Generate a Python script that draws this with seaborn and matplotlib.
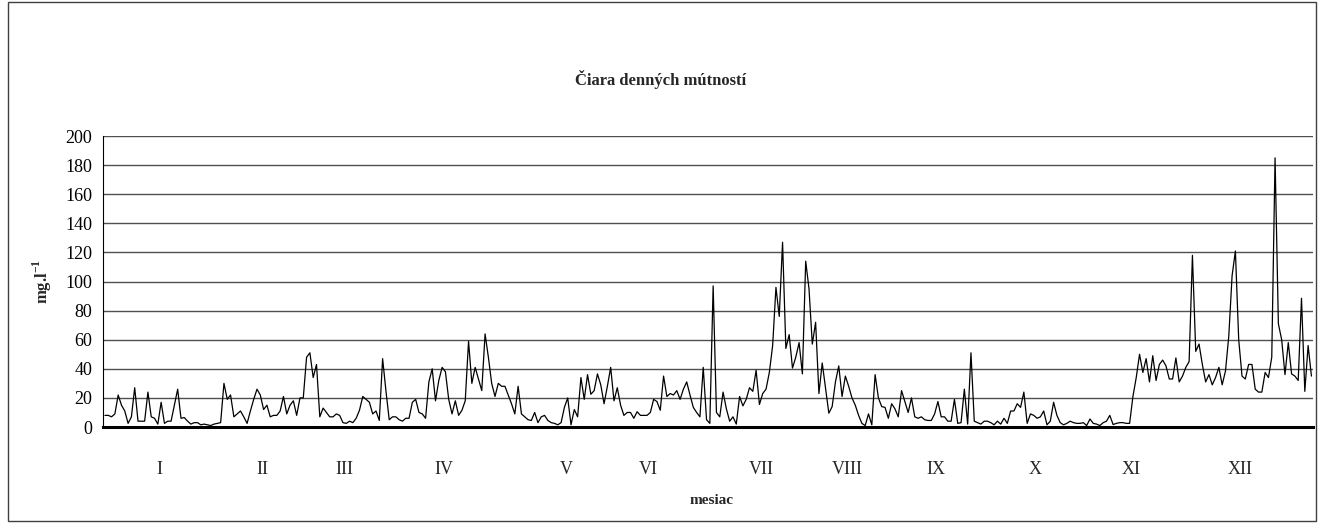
import numpy as np
import pandas as pd
import seaborn as sns
import matplotlib.pyplot as plt
from matplotlib.patches import Rectangle

# daily turbidity (mg/l), one list per month of a leap year
jan = [8, 8, 7, 9, 22, 15, 11, 2.5, 7, 27, 4, 4, 4, 24, 7, 6, 2, 17, 2.5, 4,
       4, 15, 26, 6, 6.5, 4, 2, 3, 3, 1.5, 2]
feb = [1.5, 1, 2, 2.5, 3, 30, 19, 22, 7, 9, 11, 7, 2.5, 11, 19, 26, 22, 12,
       15, 7, 8, 8, 11, 21, 9, 15, 18, 8, 20]
mar = [20, 48, 51, 34, 43, 7, 13, 10, 7, 7, 9, 8, 3, 2.5, 4, 3, 6, 11.5, 21,
       19, 17, 9, 11, 4.5, 47, 25, 5, 7, 7, 5, 4]
apr = [6, 6, 17, 19, 10, 9, 6, 31, 40, 18, 32, 41, 38, 19, 9, 18, 8, 11.5, 18,
       59, 30, 41, 33, 25, 64, 48, 30, 21, 30, 28]
may = [28, 22, 16, 9, 28, 9, 7, 5, 4.5, 10, 3, 7, 8, 4.5, 3, 2.5, 1.5, 3, 13.5,
       20, 1.5, 12, 7, 34, 19, 36, 22.5, 25, 36.5, 29, 16]
jun = [28, 41, 18, 27, 15, 8, 10, 10, 6, 10.5, 8, 8, 8, 10, 19, 17.5, 11.5, 35,
       21, 23, 22, 25, 19, 26, 31, 22, 13.5, 10, 7, 41]
jul = [5, 2.5, 97, 10, 7, 24, 12.5, 4, 7, 2, 21, 14.5, 19, 27, 24.5, 39, 15.5,
       23, 26, 37.5, 56, 96, 76, 127, 54, 63.5, 40.5, 48, 58, 36.5, 114]
aug = [95, 57, 72, 23, 44, 27, 9.5, 14, 31, 42, 21, 35, 28, 20, 15, 8, 2.5, 1,
       9, 1.5, 36, 20, 14, 13.5, 6, 16, 12.5, 7, 25, 17.5, 10]
sep = [20, 7, 6, 7, 5, 4.5, 4.5, 9, 17.5, 7, 7, 4, 4, 19, 2.5, 3, 26, 2, 51, 4,
       3, 2, 4, 4, 3, 1.5, 4, 2, 6, 2.5]
oct_ = [11, 11, 16, 13.5, 24, 2.5, 9, 8, 6, 7, 11, 1.5, 4, 17, 8, 3, 1.5, 2.5,
        4, 3, 2.5, 2.5, 3, 1, 5.5, 2.5, 2, 1, 3, 4, 8]
nov = [1.7, 2.5, 3, 3, 2.5, 2.5, 21, 34, 50, 37.5, 47, 31, 49, 32, 43, 46, 42,
       33, 33, 47.5, 31, 35, 41, 45, 118, 52, 57, 43, 31, 36]
dec = [29, 34, 41, 29, 38.5, 62.5, 104, 121, 60, 35, 33, 43, 43, 26, 24, 24,
       37.5, 34, 48, 185, 71, 60, 36, 58, 36.5, 35, 32, 88.5, 24.5, 56, 35]

months = [jan, feb, mar, apr, may, jun, jul, aug, sep, oct_, nov, dec]
month_labels = ['I', 'II', 'III', 'IV', 'V', 'VI', 'VII', 'VIII', 'IX', 'X',
                'XI', 'XII']
# label positions (day of year) as placed in the original chart
label_days = [17, 48, 73, 103, 140, 165, 199, 225, 252, 282, 311, 344]

values = np.concatenate(months)
n_days = len(values)
df = pd.DataFrame({'day': np.arange(n_days) + 0.5, 'turbidity': values})
month_edges = np.concatenate([[0], np.cumsum([len(m) for m in months])])

sns.set_style('white')
plt.rcParams['font.family'] = ['Liberation Serif', 'DejaVu Serif']
plt.rcParams['mathtext.fontset'] = 'custom'
plt.rcParams['mathtext.rm'] = 'Liberation Serif'
plt.rcParams['mathtext.bf'] = 'Liberation Serif:bold'

fig = plt.figure(figsize=(13.21, 5.24), dpi=100)
ax = fig.add_axes([0.0782, 0.1851, 0.9158, 0.5553])

sns.lineplot(data=df, x='day', y='turbidity', color='black', linewidth=0.9,
             ax=ax)

ax.set_xlim(0, n_days)
ax.set_ylim(0, 200)
ax.set_yticks(np.arange(0, 201, 20))
ax.set_xticks(month_edges)
ax.set_xticklabels([])
ax.tick_params(axis='both', direction='out', length=5, width=0.8,
               colors='black', labelsize=13)
ax.tick_params(axis='y', pad=3)
ax.grid(axis='y', color='#505050', linewidth=1.0)
ax.set_axisbelow(True)

ax.spines['top'].set_visible(False)
ax.spines['right'].set_visible(False)
ax.spines['left'].set_color('black')
ax.spines['left'].set_linewidth(0.8)
ax.spines['bottom'].set_color('black')
ax.spines['bottom'].set_linewidth(2.2)

for lab, d in zip(month_labels, label_days):
    ax.text(d, -0.145, lab, transform=ax.get_xaxis_transform(), ha='center',
            va='center', fontsize=13)

ax.set_xlabel('')
ax.set_ylabel(r'mg.l$^{\mathbf{-1}}$', fontsize=12, fontweight='bold',
              labelpad=8)
fig.text(0.539, 0.045, 'mesiac', ha='center', va='center', fontsize=11,
         fontweight='bold')
fig.text(0.5, 0.848, 'Čiara denných mútností', ha='center', va='center',
         fontsize=12, fontweight='bold')

fig.patches.append(Rectangle((0.006, 0.006), 0.9902, 0.99,
                             transform=fig.transFigure, fill=False,
                             edgecolor='#404040', linewidth=1.0))

fig.savefig('out.png', dpi=100)
